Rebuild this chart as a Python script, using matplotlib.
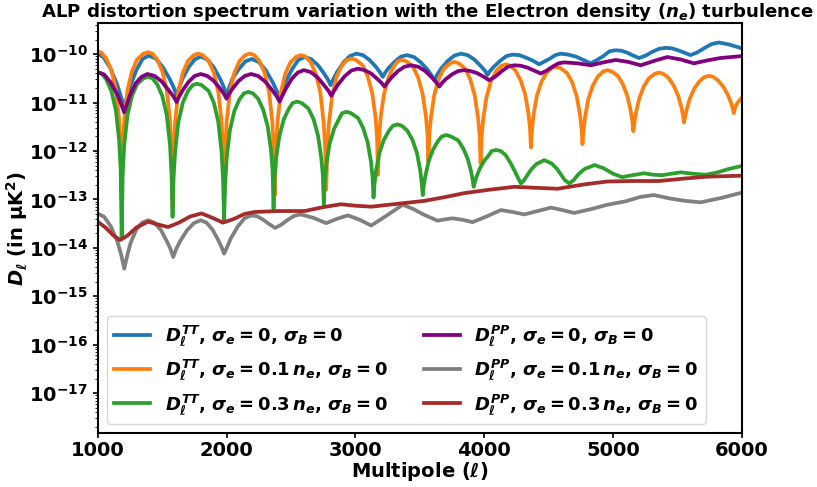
import numpy as np
import matplotlib.pyplot as plt
from matplotlib.ticker import NullFormatter

# values, stored as log10(D_ell)
ell_tt0 = [1000, 1044, 1098, 1151, 1183, 1205, 1227, 1253, 1300, 1348, 1395, 1449, 1503, 1558, 1590, 1612,
           1631, 1659, 1706, 1753, 1800, 1850, 1900, 1950, 1980, 2000, 2020, 2049, 2098, 2146, 2195,
           2249, 2304, 2358, 2390, 2412, 2431, 2460, 2509, 2557, 2606, 2656, 2707, 2757, 2788, 2808,
           2828, 2858, 2908, 2957, 3007, 3059, 3110, 3162, 3192, 3213, 3232, 3260, 3308, 3355, 3402,
           3455, 3508, 3560, 3592, 3613, 3634, 3665, 3717, 3768, 3820, 3872, 3923, 3975, 4005, 4026,
           4045, 4075, 4123, 4172, 4220, 4272, 4323, 4375, 4427, 4469, 4511, 4553, 4595, 4653, 4711,
           4770, 4828, 4876, 4925, 4973, 5021, 5066, 5111, 5157, 5202, 5254, 5306, 5357, 5409, 5457,
           5505, 5554, 5602, 5657, 5712, 5767, 5822, 5900, 6000]
log_tt0 = [-9.99, -10.06, -10.29, -10.63, -10.90, -11.10, -10.89, -10.65, -10.33, -10.10, -10.03,
           -10.09, -10.26, -10.51, -10.69, -10.85, -10.70, -10.50, -10.27, -10.11, -10.05, -10.11,
           -10.27, -10.51, -10.69, -10.85, -10.69, -10.49, -10.30, -10.15, -10.10, -10.16, -10.33,
           -10.58, -10.76, -10.92, -10.75, -10.56, -10.31, -10.12, -10.06, -10.10, -10.22, -10.40,
           -10.53, -10.64, -10.52, -10.37, -10.17, -10.04, -9.99, -10.02, -10.12, -10.27, -10.38,
           -10.47, -10.38, -10.28, -10.15, -10.05, -10.02, -10.06, -10.17, -10.32, -10.44, -10.54,
           -10.43, -10.30, -10.14, -10.03, -9.99, -10.02, -10.11, -10.25, -10.34, -10.43, -10.35,
           -10.26, -10.14, -10.04, -10.01, -10.02, -10.07, -10.13, -10.21, -10.15, -10.09, -10.02,
           -9.99, -10.01, -10.05, -10.12, -10.19, -10.12, -10.04, -9.94, -9.92, -9.93, -9.97, -10.03,
           -10.08, -10.03, -9.95, -9.89, -9.87, -9.88, -9.92, -9.97, -10.02, -9.96, -9.87, -9.79,
           -9.76, -9.80, -9.88]

ell_tt1 = [1000, 1030, 1066, 1106, 1141, 1166, 1178, 1186,
           1194, 1206, 1231, 1266, 1306, 1355, 1390, 1425, 1461, 1501, 1536, 1561, 1573, 1581,
           1589, 1601, 1626, 1661, 1701, 1745, 1780, 1815, 1861, 1901, 1936, 1961, 1973, 1981,
           1989, 2001, 2026, 2061, 2101, 2145, 2180, 2215, 2255, 2295, 2330, 2355, 2367, 2375,
           2383, 2395, 2420, 2455, 2495, 2543, 2578, 2613, 2654, 2694, 2729, 2754, 2766, 2774,
           2782, 2794, 2819, 2854, 2894, 2935, 2970, 3005, 3056, 3096, 3131, 3156, 3168, 3176,
           3184, 3196, 3221, 3256, 3296, 3327, 3362, 3397, 3447, 3487, 3522, 3547, 3559, 3567,
           3575, 3587, 3612, 3647, 3687, 3733, 3768, 3803, 3852, 3892, 3927, 3952, 3964, 3972,
           3980, 3992, 4017, 4052, 4092, 4134, 4169, 4204, 4243, 4283, 4318, 4343, 4355, 4363,
           4371, 4383, 4408, 4443, 4483, 4523, 4558, 4593, 4643, 4683, 4718, 4743, 4755, 4763,
           4771, 4783, 4808, 4843, 4883, 4923, 4958, 4993, 5038, 5078, 5113, 5138, 5150, 5158,
           5166, 5178, 5203, 5238, 5278, 5322, 5357, 5392, 5431, 5471, 5506, 5531, 5543, 5551,
           5559, 5571, 5596, 5631, 5671, 5710, 5745, 5780, 5818, 5858, 5893, 5918, 5930, 5938,
           5946, 5958, 5983, 6000]
log_tt1 = [-9.94, -9.97, -10.09, -10.33, -10.73, -11.34, -11.94, -13.00,
           -11.96, -11.36, -10.75, -10.35, -10.11, -9.99, -9.96, -9.99, -10.11, -10.35, -10.75, -11.36, -11.96, -13.20,
           -11.99, -11.39, -10.78, -10.38, -10.14, -10.02, -9.99, -10.02, -10.14, -10.38, -10.78, -11.39, -11.99, -13.10,
           -11.99, -11.39, -10.78, -10.38, -10.14, -10.02, -9.99, -10.02, -10.14, -10.38, -10.78, -11.39, -11.99, -12.91,
           -12.02, -11.42, -10.81, -10.41, -10.17, -10.05, -10.02, -10.05, -10.17, -10.41, -10.81, -11.42, -11.95, -12.80,
           -11.95, -11.45, -10.87, -10.47, -10.24, -10.12, -10.09, -10.12, -10.23, -10.46, -10.81, -11.29, -11.69, -12.49,
           -11.72, -11.32, -10.84, -10.49, -10.26, -10.15, -10.12, -10.15, -10.26, -10.48, -10.82, -11.27, -11.62, -12.22,
           -11.64, -11.30, -10.85, -10.51, -10.30, -10.19, -10.16, -10.19, -10.30, -10.52, -10.86, -11.31, -11.66, -12.25,
           -11.70, -11.35, -10.90, -10.56, -10.35, -10.24, -10.21, -10.24, -10.34, -10.54, -10.83, -11.21, -11.51, -11.93,
           -11.55, -11.25, -10.87, -10.58, -10.39, -10.29, -10.26, -10.29, -10.39, -10.58, -10.87, -11.24, -11.52, -11.86,
           -11.58, -11.30, -10.93, -10.65, -10.46, -10.36, -10.33, -10.36, -10.45, -10.63, -10.88, -11.18, -11.38, -11.59,
           -11.41, -11.21, -10.92, -10.67, -10.50, -10.41, -10.38, -10.41, -10.49, -10.65, -10.86, -11.10, -11.26, -11.41,
           -11.30, -11.15, -10.92, -10.71, -10.56, -10.47, -10.45, -10.47, -10.55, -10.68, -10.85, -11.02, -11.13, -11.22,
           -11.12, -11.04, -10.95, -10.90]

ell_tt3 = [1000, 1030, 1066, 1106, 1141, 1166, 1178, 1186,
           1194, 1206, 1231, 1266, 1306, 1355, 1390, 1425, 1461, 1501, 1536, 1561, 1573, 1581,
           1589, 1601, 1626, 1661, 1701, 1737, 1772, 1807, 1861, 1901, 1936, 1961, 1973, 1981,
           1989, 2001, 2026, 2061, 2101, 2135, 2170, 2205, 2245, 2285, 2320, 2345, 2357, 2365,
           2373, 2385, 2410, 2445, 2485, 2513, 2548, 2583, 2635, 2675, 2710, 2735, 2747, 2755,
           2763, 2775, 2800, 2835, 2875, 2897, 2932, 2967, 3021, 3061, 3096, 3121, 3133, 3141,
           3149, 3161, 3186, 3221, 3261, 3291, 3326, 3361, 3403, 3443, 3478, 3503, 3515, 3523,
           3531, 3543, 3568, 3603, 3643, 3671, 3706, 3741, 3798, 3838, 3873, 3898, 3910, 3918,
           3926, 3938, 3963, 3998, 4038, 4058, 4093, 4128, 4165, 4205, 4240, 4265, 4277, 4285,
           4305, 4330, 4365, 4405, 4466, 4525, 4565, 4600, 4625, 4660, 4695, 4735, 4780, 4858,
           4930, 5000, 5072, 5150, 5241, 5310, 5380, 5450, 5525, 5620, 5719, 5800, 5900, 6000]
log_tt3 = [-10.38, -10.40, -10.52, -10.76, -11.16, -11.77, -12.37, -13.81,
           -12.47, -11.87, -11.26, -10.86, -10.62, -10.50, -10.47, -10.50, -10.62, -10.86, -11.26, -11.87, -12.47, -13.36,
           -12.55, -12.01, -11.40, -11.00, -10.76, -10.64, -10.61, -10.64, -10.76, -11.00, -11.40, -12.01, -12.58, -13.43,
           -12.68, -12.15, -11.57, -11.17, -10.93, -10.81, -10.78, -10.81, -10.92, -11.15, -11.50, -11.98, -12.38, -13.19,
           -12.53, -12.15, -11.69, -11.34, -11.12, -11.01, -10.98, -11.01, -11.12, -11.34, -11.68, -12.13, -12.48, -13.10,
           -12.59, -12.27, -11.85, -11.54, -11.33, -11.22, -11.19, -11.22, -11.32, -11.53, -11.83, -12.22, -12.52, -12.96,
           -12.67, -12.40, -12.05, -11.77, -11.58, -11.48, -11.45, -11.48, -11.58, -11.77, -12.04, -12.39, -12.65, -12.91,
           -12.72, -12.52, -12.22, -11.97, -11.79, -11.70, -11.67, -11.70, -11.78, -11.95, -12.17, -12.42, -12.59, -12.74,
           -12.66, -12.55, -12.38, -12.21, -12.08, -12.00, -11.98, -12.00, -12.08, -12.25, -12.43, -12.57, -12.63, -12.67,
           -12.62, -12.52, -12.38, -12.27, -12.19, -12.26, -12.37, -12.50, -12.60, -12.67, -12.60, -12.47, -12.37, -12.29,
           -12.36, -12.47, -12.54, -12.50, -12.46, -12.49, -12.50, -12.47, -12.44, -12.47, -12.49, -12.45, -12.37, -12.31]

ell_pp0 = [1000, 1050, 1100, 1155, 1185, 1205, 1225, 1250, 1295, 1340, 1385, 1442, 1499, 1555, 1590, 1612,
           1631, 1659, 1706, 1753, 1800, 1850, 1900, 1950, 1980, 2000, 2020, 2047, 2095, 2142, 2190,
           2245, 2301, 2356, 2390, 2412, 2431, 2459, 2506, 2553, 2600, 2653, 2706, 2760, 2792, 2813,
           2834, 2865, 2916, 2968, 3019, 3071, 3123, 3174, 3205, 3226, 3247, 3278, 3330, 3381, 3433,
           3488, 3543, 3597, 3630, 3652, 3671, 3700, 3749, 3797, 3846, 3895, 3943, 3992, 4040, 4088,
           4137, 4185, 4233, 4285, 4337, 4388, 4440, 4485, 4530, 4576, 4621, 4725, 4828, 4925, 5021,
           5118, 5215, 5318, 5421, 5525, 5628, 5730, 5835, 6000]
log_pp0 = [-10.37, -10.42, -10.58, -10.85, -11.05, -11.20, -11.05, -10.85, -10.60, -10.47, -10.41,
           -10.45, -10.57, -10.76, -10.88, -10.99, -10.88, -10.75, -10.57, -10.45, -10.41, -10.45,
           -10.55, -10.71, -10.82, -10.92, -10.82, -10.71, -10.55, -10.45, -10.41, -10.45, -10.57,
           -10.75, -10.87, -10.98, -10.87, -10.72, -10.51, -10.38, -10.33, -10.37, -10.48, -10.65,
           -10.76, -10.86, -10.76, -10.63, -10.46, -10.34, -10.30, -10.33, -10.40, -10.52, -10.60,
           -10.67, -10.59, -10.49, -10.35, -10.26, -10.23, -10.26, -10.35, -10.49, -10.59, -10.67,
           -10.60, -10.52, -10.42, -10.35, -10.33, -10.35, -10.39, -10.46, -10.54, -10.46, -10.35,
           -10.26, -10.23, -10.24, -10.28, -10.34, -10.40, -10.34, -10.26, -10.19, -10.17, -10.19,
           -10.23, -10.17, -10.12, -10.16, -10.23, -10.14, -10.06, -10.11, -10.19, -10.13, -10.08,
           -10.04]

ell_pp1 = [1000, 1050, 1100, 1150, 1180, 1206, 1230, 1255, 1300, 1345, 1392, 1440, 1490, 1540, 1566, 1586,
           1610, 1640, 1693, 1746, 1800, 1845, 1890, 1936, 1962, 1981, 2005, 2034, 2087, 2140, 2193,
           2239, 2285, 2331, 2377, 2426, 2476, 2525, 2574, 2674, 2774, 2858, 2942, 3033, 3123, 3245,
           3368, 3450, 3536, 3639, 3700, 3755, 3830, 3910, 4020, 4130, 4220, 4311, 4415, 4518, 4608,
           4698, 4830, 4956, 5097, 5210, 5318, 5440, 5560, 5680, 5840, 6000]
log_pp1 = [-13.29, -13.36, -13.55, -13.85, -14.12, -14.43, -14.15, -13.90, -13.62, -13.48, -13.43,
           -13.48, -13.63, -13.88, -14.03, -14.19, -14.02, -13.86, -13.64, -13.49, -13.43, -13.48,
           -13.62, -13.84, -13.99, -14.12, -13.98, -13.80, -13.56, -13.39, -13.33, -13.35, -13.42,
           -13.51, -13.59, -13.52, -13.42, -13.34, -13.31, -13.38, -13.49, -13.40, -13.33, -13.42,
           -13.54, -13.33, -13.11, -13.20, -13.32, -13.44, -13.41, -13.39, -13.42, -13.47, -13.35,
           -13.22, -13.26, -13.31, -13.24, -13.17, -13.22, -13.28, -13.20, -13.11, -13.04, -12.95,
           -12.91, -12.98, -13.03, -13.06, -12.97, -12.86]

ell_pp3 = [1000, 1060, 1120, 1173, 1230, 1300, 1392, 1470, 1547, 1630, 1720, 1806, 1890, 1973, 2060, 2140,
           2219, 2400, 2606, 2750, 2888, 3000, 3123, 3330, 3536, 3700, 3846, 4040, 4233, 4400, 4569,
           4776, 4956, 5150, 5357, 5550, 5731, 6000]
log_pp3 = [-13.46, -13.58, -13.74, -13.84, -13.75, -13.58, -13.46, -13.52, -13.57, -13.48, -13.35,
           -13.29, -13.38, -13.48, -13.40, -13.30, -13.26, -13.24, -13.24, -13.16, -13.10, -13.13,
           -13.15, -13.09, -13.03, -12.95, -12.87, -12.80, -12.74, -12.76, -12.78, -12.69, -12.63,
           -12.62, -12.62, -12.57, -12.53, -12.51]

labels = [r'$D_\ell^{TT}$, $\sigma_e = 0$, $\sigma_B = 0$',
          r'$D_\ell^{TT}$, $\sigma_e = 0.1\,n_e$, $\sigma_B = 0$',
          r'$D_\ell^{TT}$, $\sigma_e = 0.3\,n_e$, $\sigma_B = 0$',
          r'$D_\ell^{PP}$, $\sigma_e = 0$, $\sigma_B = 0$',
          r'$D_\ell^{PP}$, $\sigma_e = 0.1\,n_e$, $\sigma_B = 0$',
          r'$D_\ell^{PP}$, $\sigma_e = 0.3\,n_e$, $\sigma_B = 0$']
colors = ['tab:blue', 'tab:orange', 'tab:green', 'purple', 'gray', 'brown']

plt.rcParams['font.weight'] = 'bold'
plt.rcParams['axes.labelweight'] = 'bold'
plt.rcParams['axes.titleweight'] = 'bold'
plt.rcParams['mathtext.fontset'] = 'custom'
plt.rcParams['mathtext.rm'] = 'DejaVu Sans:bold'
plt.rcParams['mathtext.it'] = 'DejaVu Sans:italic:bold'
plt.rcParams['mathtext.bf'] = 'DejaVu Sans:bold'

fig = plt.figure(figsize=(8.17, 4.87), dpi=100)
ax = fig.add_axes([0.1196, 0.1109, 0.7884, 0.8419])

series = [(ell_tt0, log_tt0), (ell_tt1, log_tt1), (ell_tt3, log_tt3),
          (ell_pp0, log_pp0), (ell_pp1, log_pp1), (ell_pp3, log_pp3)]
for (x, ly), lab, c in zip(series, labels, colors):
    ax.plot(x, 10.0 ** np.array(ly), color=c, lw=2.7, label=lab)

ax.set_yscale('log')
ax.set_xlim(1000, 6000)
ax.set_ylim(1.5e-18, 4.4e-10)
ax.set_xticks([1000, 2000, 3000, 4000, 5000, 6000])
ax.yaxis.set_minor_formatter(NullFormatter())
ax.tick_params(labelsize=14, width=1.2)
ax.tick_params(axis='x', pad=2)
for s in ax.spines.values():
    s.set_linewidth(1.5)

ax.set_xlabel(r'Multipole ($\ell$)', fontsize=14, labelpad=0)
ax.set_ylabel(r'$D_\ell$ (in $\mathrm{\mu K^2}$)', fontsize=14)
ax.yaxis.set_label_coords(-0.105, 0.5)
ax.set_title(r'ALP distortion spectrum variation with the Electron density ($n_e$) turbulence',
             fontsize=13.1, pad=4, x=0.512)
ax.legend(loc='lower left', ncol=2, fontsize=13, columnspacing=2.0, labelspacing=0.55)

fig.savefig('out.png', dpi=100)
